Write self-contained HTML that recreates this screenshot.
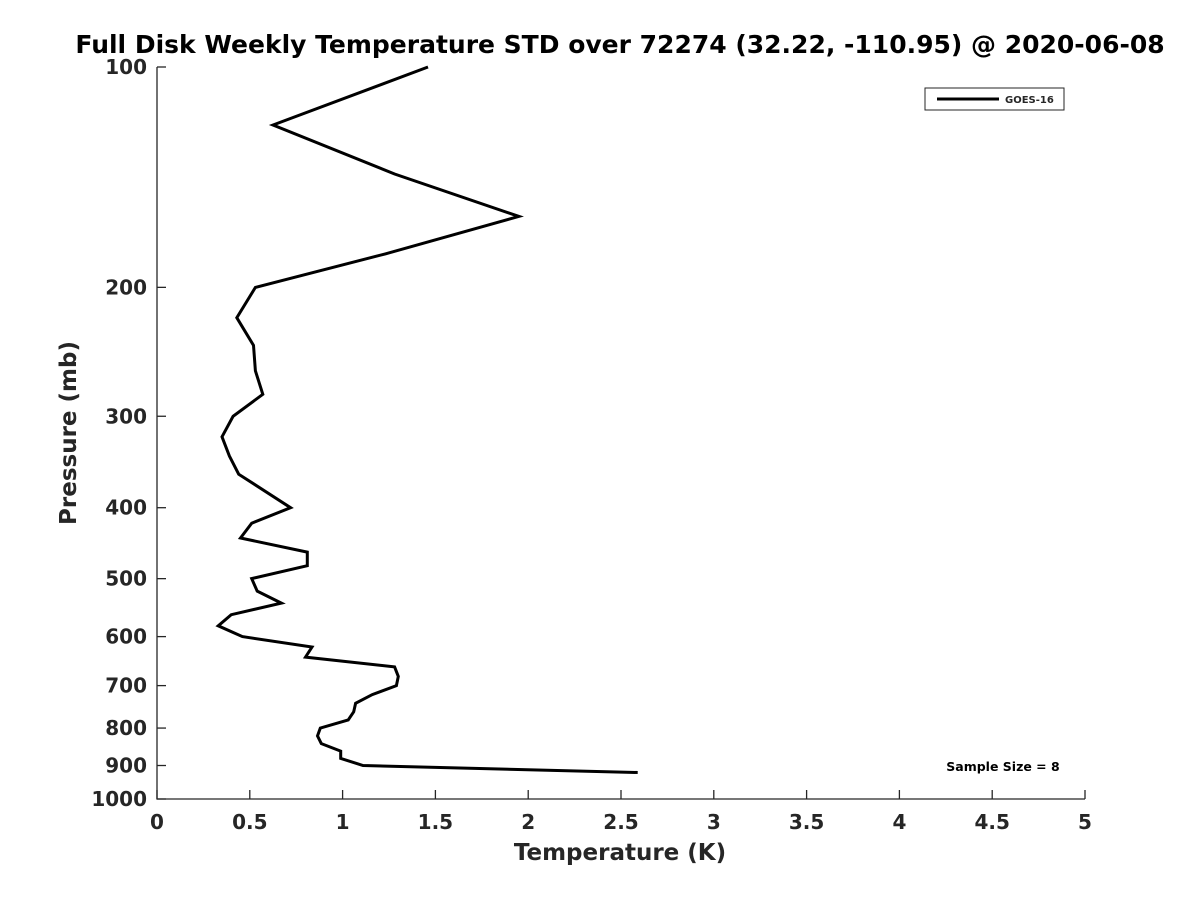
<!DOCTYPE html>
<html><head><meta charset="utf-8"><style>
body{margin:0;background:#fff;}
svg text{font-family:"DejaVu Sans","Liberation Sans",sans-serif;font-weight:bold;fill:#262626;}
</style></head><body>
<svg width="1200" height="900" xmlns="http://www.w3.org/2000/svg">
<g id="root"></g>
</svg>
<script>
const xTicks=[0,0.5,1,1.5,2,2.5,3,3.5,4,4.5,5];
const xTickLabels=["0","0.5","1","1.5","2","2.5","3","3.5","4","4.5","5"];
const yTicks=[100,200,300,400,500,600,700,800,900,1000];
const yTickLabels=["100","200","300","400","500","600","700","800","900","1000"];
const pressure=[100,120,140,160,180,200,220,240,260,280,300,320,340,360,400,420,440,460,480,500,520,540,560,580,600,620,640,660,680,700,720,740,760,780,800,820,840,860,880,900,920];
const tempStd=[1.46,0.625,1.28,1.95,1.23,0.53,0.43,0.52,0.53,0.57,0.41,0.35,0.39,0.44,0.72,0.51,0.45,0.81,0.81,0.51,0.54,0.67,0.40,0.33,0.46,0.835,0.80,1.28,1.30,1.29,1.16,1.07,1.06,1.03,0.88,0.865,0.885,0.99,0.99,1.11,2.59];

const L=157,R=1085,T=67,B=799;
const xs=v=>L+(v-0)/(5-0)*(R-L);
const ys=p=>T+(Math.log10(p)-2)/1*(B-T);
const NS="http://www.w3.org/2000/svg";
const root=document.getElementById('root');
function mk(tag,attrs,parent){const e=document.createElementNS(NS,tag);for(const k in attrs)e.setAttribute(k,attrs[k]);(parent||root).appendChild(e);return e;}

let t=mk('text',{x:620,y:53,'text-anchor':'middle','font-size':25,style:'fill:#000'});
t.textContent='Full Disk Weekly Temperature STD over 72274 (32.22, -110.95) @ 2020-06-08';



let ax=mk('path',{d:`M${L},${T}V${B}H${R}`,stroke:'#262626','stroke-width':1.3,fill:'none'});



xTicks.forEach((v,i)=>{
  const x=xs(v);
  let tk=mk('line',{x1:x,x2:x,y1:B,y2:B-9,stroke:'#262626','stroke-width':1.3});
  
  
  let lb=mk('text',{x:x,y:B+30,'text-anchor':'middle','font-size':20});
  lb.textContent=xTickLabels[i];
  
  
});
yTicks.forEach((v,i)=>{
  const y=ys(v);
  let tk=mk('line',{x1:L,x2:L+9,y1:y,y2:y,stroke:'#262626','stroke-width':1.3});
  
  
  let lb=mk('text',{x:L-10,y:y+7,'text-anchor':'end','font-size':20});
  lb.textContent=yTickLabels[i];
  
  
});

let xl=mk('text',{x:620,y:860,'text-anchor':'middle','font-size':23});
xl.textContent='Temperature (K)';


let yl=mk('text',{x:0,y:0,'text-anchor':'middle','font-size':23,transform:'translate(76,433) rotate(-90)'});
yl.textContent='Pressure (mb)';



const d=pressure.map((p,i)=>(i?'L':'M')+xs(tempStd[i]).toFixed(1)+','+ys(p).toFixed(1)).join('');
let ln=mk('path',{d:d,stroke:'#000','stroke-width':3,fill:'none','stroke-linejoin':'miter'});



let lg=mk('g',{});


mk('rect',{x:925,y:88,width:139,height:22,fill:'#fff',stroke:'#262626','stroke-width':1},lg);
mk('line',{x1:937,x2:999,y1:99,y2:99,stroke:'#000','stroke-width':3},lg);
let lt=mk('text',{x:1005,y:103,'font-size':10},lg);
lt.textContent='GOES-16';



let ss=mk('text',{x:1003,y:771,'text-anchor':'middle','font-size':12.5,style:'fill:#000'});
ss.textContent='Sample Size = 8';


</script>
</body></html>
